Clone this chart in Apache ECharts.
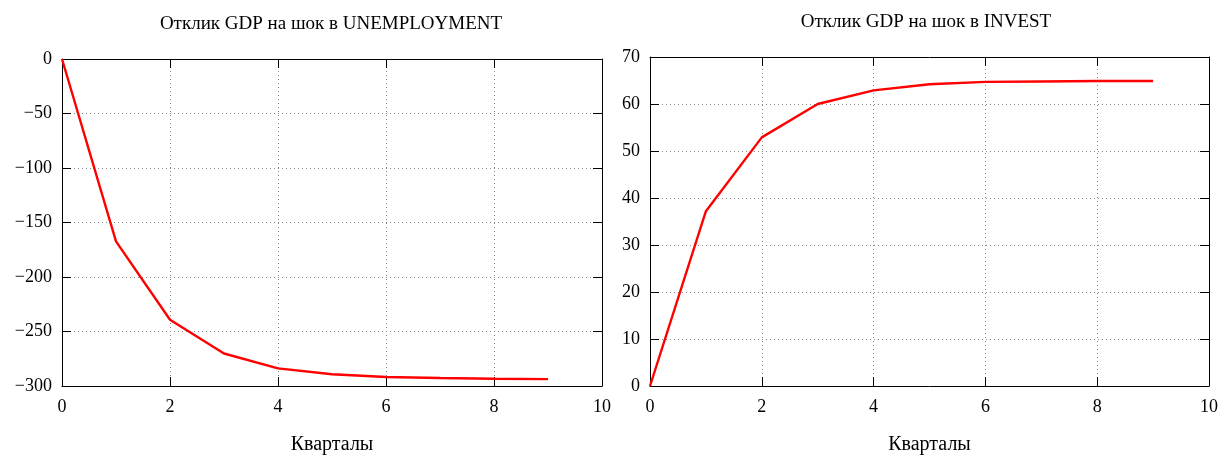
<!DOCTYPE html>
<html><head><meta charset="utf-8">
<script src="https://cdn.jsdelivr.net/npm/echarts@6/dist/echarts.min.js"></script>
<style>html,body{margin:0;padding:0;background:#fff}#c{width:1222px;height:460px}</style>
</head><body><div id="c"></div>
<script>
const quarters = [0,1,2,3,4,5,6,7,8,9];
const unempResponse = [0,-167.3,-239.2,-270.2,-283.8,-289.2,-291.7,-292.6,-293.3,-293.7];
const investResponse = [0,37.2,52.9,60.0,62.9,64.2,64.7,64.8,64.9,64.9];
const titles = ['Отклик GDP на шок в UNEMPLOYMENT','Отклик GDP на шок в INVEST'];
const xName = 'Кварталы';

const FONT = 'Liberation Serif';
const fmt = v => (v < 0 ? '\u2212' + Math.abs(v) : String(v));
const grid = [
  {left:62, right:620, top:59, bottom:71},
  {left:650, right:13, top:57, bottom:71}
];
const lineS = {show:true, onZero:false, lineStyle:{color:'#000', width:1}};
const tickS = {show:true, inside:true, length:9, lineStyle:{color:'#000'}};
const splitS = {show:true, lineStyle:{color:'#888', type:[1,3], width:1}};
function xAxes(i){
  return [
    {type:'value', gridIndex:i, min:0, max:10, interval:2, position:'bottom',
     name:xName, nameLocation:'middle', nameGap:49,
     nameTextStyle:{fontFamily:FONT, fontSize:20, color:'#000'},
     axisLine:lineS, axisTick:tickS,
     axisLabel:{fontFamily:FONT, fontSize:18, color:'#000', margin:12},
     splitLine:splitS},
    {type:'value', gridIndex:i, min:0, max:10, interval:2, position:'top',
     axisLine:lineS, axisTick:tickS, axisLabel:{show:false}, splitLine:{show:false}}
  ];
}
function yAxes(i, min, max, interval){
  return [
    {type:'value', gridIndex:i, min:min, max:max, interval:interval, position:'left',
     axisLine:lineS, axisTick:tickS,
     axisLabel:{fontFamily:FONT, fontSize:18, color:'#000', margin:10, formatter:fmt},
     splitLine:splitS},
    {type:'value', gridIndex:i, min:min, max:max, interval:interval, position:'right',
     axisLine:lineS, axisTick:tickS, axisLabel:{show:false}, splitLine:{show:false}}
  ];
}
const chart = echarts.init(document.getElementById('c'));
chart.setOption({
  backgroundColor:'#fff',
  animation:false,
  title:[
    {text:titles[0], left:326, top:10, textAlign:'center',
     textStyle:{fontFamily:FONT, fontSize:19, fontWeight:'normal', color:'#000'}},
    {text:titles[1], left:921, top:8, textAlign:'center',
     textStyle:{fontFamily:FONT, fontSize:19, fontWeight:'normal', color:'#000'}}
  ],
  grid:grid,
  xAxis:[...xAxes(0), ...xAxes(1)],
  yAxis:[...yAxes(0,-300,0,50), ...yAxes(1,0,70,10)],
  series:[
    {type:'line', xAxisIndex:0, yAxisIndex:0, data:quarters.map((q,k)=>[q,unempResponse[k]]),
     showSymbol:false, lineStyle:{color:'#ff0000', width:2.4}, itemStyle:{color:'#ff0000'}},
    {type:'line', xAxisIndex:2, yAxisIndex:2, data:quarters.map((q,k)=>[q,investResponse[k]]),
     showSymbol:false, lineStyle:{color:'#ff0000', width:2.4}, itemStyle:{color:'#ff0000'}}
  ]
});
</script></body></html>
